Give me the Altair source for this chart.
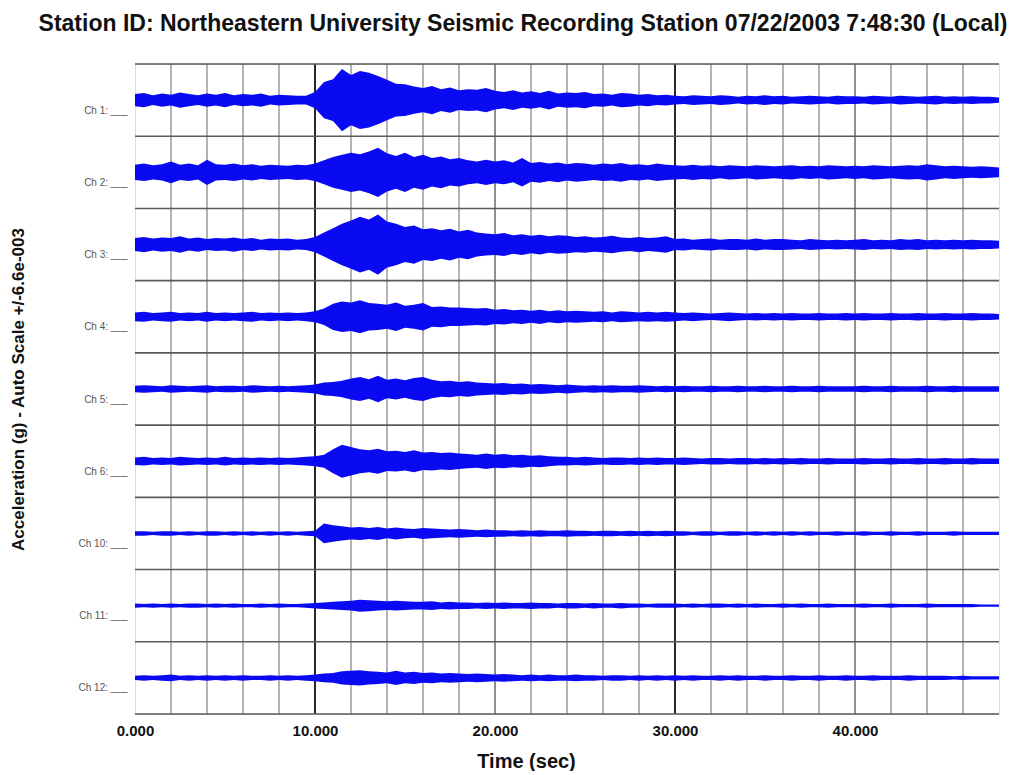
import altair as alt
import pandas as pd

# ---------------- data ----------------
channel_names = ["Ch 1:", "Ch 2:", "Ch 3:", "Ch 4:", "Ch 5:", "Ch 6:", "Ch 10:", "Ch 11:", "Ch 12:"]
band_half = 6.6          # +/- 6.6e-003 g per channel band (milli-g)
time_step = 0.5          # s between envelope samples
x_ticks = [0, 10, 20, 30, 40]
grid_minor = [2, 4, 6, 8, 12, 14, 16, 18, 22, 24, 26, 28, 32, 34, 36, 38, 42, 44, 46]
grid_mid = [20, 40]
grid_major = [10, 30]

# envelope half-amplitude (milli-g), every 0.5 s from 0 to 48 s
ch1 = [1.1,1.3,0.9,1.2,1.0,1.4,1.1,0.9,1.2,1.0,1.3,0.9,1.1,1.0,1.2,0.8,1.0,0.9,0.8,0.8,
       1.5,3.3,3.8,5.7,4.6,5.3,5.0,4.4,3.7,3.0,2.9,2.5,2.2,2.6,2.0,2.3,1.8,2.0,1.9,2.2,
       1.7,1.5,1.8,1.4,1.6,1.3,1.7,1.2,1.4,1.3,1.5,1.1,1.2,1.0,1.3,1.2,1.0,1.1,0.9,1.0,
       0.8,0.7,0.9,0.8,0.7,0.9,0.8,0.6,0.8,0.7,0.9,0.7,0.8,0.6,0.7,0.8,0.7,0.6,0.8,0.7,
       0.7,0.6,0.8,0.7,0.6,0.8,0.7,0.6,0.7,0.8,0.6,0.7,0.6,0.7,0.6,0.6,0.5]
ch2 = [1.4,1.6,1.3,1.5,2.0,1.4,1.6,1.3,2.3,1.5,1.4,1.6,1.3,1.5,1.2,1.4,1.3,1.2,1.4,1.3,
       1.6,2.2,2.8,3.2,3.6,3.3,3.8,4.5,3.5,3.0,3.6,2.8,3.2,2.6,2.9,2.4,2.6,2.2,2.0,2.3,
       2.0,2.2,1.8,2.6,1.7,1.9,1.6,1.8,1.5,1.7,1.6,1.4,1.6,1.5,1.7,1.4,1.5,1.3,1.6,1.4,
       1.3,1.2,1.4,1.2,1.3,1.1,1.3,1.2,1.1,1.3,1.2,1.1,1.2,1.3,1.1,1.2,1.1,1.3,1.2,1.1,
       1.2,1.1,1.3,1.2,1.1,1.2,1.3,1.2,1.5,1.3,1.1,1.2,1.1,1.0,1.1,1.0,0.9]
ch3 = [1.2,1.4,1.1,1.3,1.2,1.5,1.1,1.3,1.0,1.2,1.1,1.3,1.0,1.2,0.9,1.1,1.0,1.1,0.9,1.0,
       1.4,2.2,3.0,3.8,4.4,5.1,4.6,5.5,4.2,3.8,3.2,3.5,2.8,3.0,2.6,2.9,2.4,2.7,2.2,2.0,
       1.9,2.1,1.7,1.9,1.6,1.8,1.5,1.7,1.6,1.4,1.5,1.3,1.4,1.6,1.3,1.2,1.4,1.2,1.3,1.5,
       1.0,1.1,0.9,1.0,1.1,0.9,1.0,1.0,0.9,1.1,0.9,1.0,1.0,0.9,0.8,1.0,0.9,0.8,0.9,0.8,
       0.9,1.0,0.8,0.9,0.8,1.0,0.9,1.0,0.8,0.9,0.8,0.9,0.8,0.9,0.8,0.8,0.7]
ch4 = [0.8,0.9,0.7,0.8,0.9,0.7,0.8,0.7,0.9,0.7,0.8,0.7,0.8,0.9,0.7,0.8,0.7,0.8,0.7,0.8,
       1.0,1.5,2.4,2.8,2.6,3.0,2.5,2.4,2.2,2.6,2.0,2.2,2.5,1.8,1.9,1.7,1.7,1.6,1.5,1.6,
       1.3,1.4,1.2,1.3,1.1,1.3,1.0,1.2,1.0,1.1,1.0,0.9,1.0,0.8,1.0,0.9,0.8,0.9,0.8,0.9,
       0.8,0.7,0.8,0.7,0.6,0.7,0.8,0.7,0.6,0.7,0.6,0.7,0.6,0.7,0.6,0.6,0.7,0.6,0.6,0.7,
       0.6,0.7,0.6,0.6,0.7,0.6,0.6,0.7,0.6,0.6,0.7,0.6,0.6,0.7,0.6,0.6,0.5]
ch5 = [0.6,0.7,0.6,0.5,0.7,0.6,0.5,0.6,0.7,0.5,0.6,0.6,0.5,0.7,0.6,0.5,0.6,0.5,0.6,0.7,
       0.8,1.2,1.3,1.5,1.9,2.2,1.8,2.4,1.7,1.9,1.6,2.0,2.2,1.7,1.4,1.5,1.3,1.4,1.2,1.1,
       1.0,1.1,0.9,1.0,0.8,0.9,0.8,0.7,0.8,0.7,0.6,0.7,0.6,0.7,0.6,0.6,0.7,0.6,0.5,0.6,
       0.5,0.6,0.5,0.5,0.6,0.5,0.5,0.6,0.5,0.5,0.6,0.5,0.5,0.6,0.5,0.5,0.6,0.5,0.5,0.5,
       0.5,0.6,0.5,0.5,0.6,0.5,0.5,0.5,0.6,0.5,0.5,0.6,0.5,0.5,0.5,0.5,0.5]
ch6 = [0.7,0.8,0.6,0.7,0.6,0.8,0.7,0.6,0.7,0.6,0.8,0.6,0.7,0.6,0.7,0.6,0.7,0.6,0.7,0.8,
       0.9,1.2,2.2,3.0,2.6,2.2,2.0,2.3,1.8,1.9,1.7,2.0,1.6,1.7,1.5,1.6,1.4,1.3,1.2,1.4,
       1.2,1.3,1.1,1.2,1.0,1.1,0.9,0.8,0.8,0.7,0.8,0.7,0.6,0.7,0.7,0.6,0.7,0.6,0.7,0.6,
       0.6,0.7,0.6,0.5,0.6,0.6,0.5,0.6,0.6,0.5,0.6,0.5,0.6,0.5,0.6,0.5,0.5,0.6,0.5,0.5,
       0.5,0.6,0.5,0.5,0.6,0.5,0.5,0.6,0.5,0.5,0.6,0.5,0.5,0.6,0.5,0.5,0.5]
ch10 = [0.4,0.4,0.3,0.4,0.4,0.3,0.4,0.3,0.4,0.4,0.3,0.4,0.3,0.4,0.3,0.4,0.3,0.4,0.3,0.4,
        0.5,1.8,1.5,1.3,1.1,1.2,1.0,1.2,0.9,1.1,0.9,0.8,1.0,0.9,0.8,0.7,0.8,0.7,0.6,0.7,
        0.6,0.6,0.5,0.6,0.5,0.6,0.5,0.5,0.6,0.5,0.5,0.4,0.5,0.5,0.4,0.5,0.4,0.5,0.4,0.5,
        0.4,0.4,0.3,0.4,0.4,0.3,0.4,0.4,0.3,0.4,0.3,0.4,0.3,0.4,0.3,0.4,0.3,0.3,0.4,0.3,
        0.3,0.4,0.3,0.3,0.4,0.3,0.3,0.4,0.3,0.3,0.3,0.4,0.3,0.3,0.3,0.3,0.3]
ch11 = [0.4,0.3,0.4,0.3,0.4,0.3,0.4,0.4,0.3,0.4,0.3,0.4,0.3,0.3,0.4,0.3,0.4,0.3,0.3,0.4,
        0.5,0.6,0.7,0.8,0.9,1.1,1.0,0.9,0.8,0.9,0.8,0.7,0.7,0.8,0.6,0.7,0.6,0.6,0.5,0.6,
        0.5,0.6,0.5,0.5,0.6,0.5,0.5,0.4,0.5,0.5,0.4,0.5,0.4,0.4,0.5,0.4,0.4,0.3,0.4,0.4,
        0.4,0.3,0.4,0.3,0.4,0.4,0.3,0.4,0.3,0.4,0.3,0.3,0.4,0.3,0.4,0.3,0.3,0.4,0.3,0.3,
        0.3,0.4,0.3,0.3,0.4,0.3,0.3,0.3,0.4,0.3,0.3,0.3,0.3,0.3,0.2,0.2,0.2]
ch12 = [0.4,0.5,0.4,0.5,0.6,0.4,0.5,0.4,0.5,0.4,0.5,0.4,0.5,0.4,0.4,0.5,0.4,0.5,0.4,0.5,
        0.6,0.8,0.9,1.2,1.3,1.4,1.2,1.1,1.0,1.3,1.0,1.1,0.9,1.0,0.8,0.9,0.8,0.7,0.8,0.7,
        0.6,0.7,0.6,0.5,0.6,0.5,0.6,0.5,0.5,0.6,0.5,0.5,0.4,0.5,0.5,0.4,0.5,0.4,0.5,0.4,
        0.5,0.4,0.5,0.4,0.4,0.5,0.4,0.5,0.4,0.4,0.5,0.4,0.4,0.5,0.4,0.4,0.5,0.4,0.4,0.5,
        0.4,0.4,0.5,0.4,0.4,0.4,0.5,0.4,0.4,0.4,0.4,0.3,0.4,0.3,0.3,0.3,0.3]

envelopes = [ch1, ch2, ch3, ch4, ch5, ch6, ch10, ch11, ch12]

# ---------------- build tables ----------------
band = 2 * band_half
centers = [-band * i for i in range(len(channel_names))]
rows = []
for i, env in enumerate(envelopes):
    for k, a in enumerate(env):
        rows.append({"ch": channel_names[i], "t": k * time_step,
                     "v": centers[i] + a, "lo": centers[i] - a})
traces = pd.DataFrame(rows)

y_top = band_half
y_bottom = centers[-1] - band_half
h_lines = pd.DataFrame({"v": [band_half - band * k for k in range(len(channel_names) + 1)]})
v_minor = pd.DataFrame({"t": grid_minor})
v_mid = pd.DataFrame({"t": grid_mid})
v_major = pd.DataFrame({"t": grid_major})

W, H = 864, 650
xscale = alt.Scale(domain=[0, 48], nice=False, zero=False)
yscale = alt.Scale(domain=[y_bottom, y_top], nice=False, zero=False)

label_arr = "[" + ",".join("'" + n + " ___'" for n in channel_names) + "]"
label_expr = label_arr + "[round(-datum.value / " + str(band) + ")]"

font = "Liberation Sans"

x_axis = alt.Axis(values=x_ticks, format=".3f", title="Time (sec)",
                  grid=False, ticks=False, domain=False, labelFlush=False,
                  labelFont=font, labelFontSize=15, labelFontWeight="bold",
                  labelColor="#111", labelPadding=9,
                  titleFont=font, titleFontSize=20, titleFontWeight="bold",
                  titleColor="#111", titleX=391, titleY=47,
                  titleBaseline="middle", titleAlign="center")
y_axis = alt.Axis(values=centers, labelExpr=label_expr,
                  title="Acceleration (g) - Auto Scale +/-6.6e-003",
                  grid=False, ticks=False, domain=False,
                  labelFont=font, labelFontSize=10, labelColor="#555",
                  labelPadding=8, labelOffset=10,
                  titleFont=font, titleFontSize=17, titleFontWeight="bold",
                  titleColor="#111", titleX=-117, titleY=325,
                  titleAngle=270, titleBaseline="middle", titleAlign="center")

X = alt.X("t:Q", scale=xscale, axis=x_axis, title="Time (sec)")
Y = alt.Y("v:Q", scale=yscale, axis=y_axis, title="Acceleration (g) - Auto Scale +/-6.6e-003")

def vrules(df, color, width):
    return alt.Chart(df).mark_rule(color=color, strokeWidth=width).encode(x=X)

grid_minor_layer = vrules(v_minor, "#9a9a9a", 1.5)
grid_mid_layer = vrules(v_mid, "#6a6a6a", 1.5)
grid_major_layer = vrules(v_major, "#111111", 1.8)
h_layer = alt.Chart(h_lines).mark_rule(color="#5a5a5a", strokeWidth=1.6).encode(y=Y)

trace_layer = alt.Chart(traces).mark_area(color="#0a0af2", opacity=1, interpolate="linear").encode(
    x=X, y=Y, y2="lo:Q", detail="ch:N",
)

chart = alt.layer(
    grid_minor_layer, grid_mid_layer, grid_major_layer, h_layer, trace_layer
).properties(
    width=W, height=H,
    title=alt.Title("Station ID: Northeastern University Seismic Recording Station  07/22/2003 7:48:30 (Local)",
                    font=font, fontSize=23, fontWeight="bold", color="#111",
                    anchor="middle", dx=-44, offset=27),
    autosize=alt.AutoSizeParams(type="none"),
    padding={"left": 127, "top": 56, "right": 11, "bottom": 57},
).configure_view(stroke="#555", strokeWidth=1.6).configure(background="white")

chart.save("out.html", embed_options={"renderer": "svg", "actions": False})
